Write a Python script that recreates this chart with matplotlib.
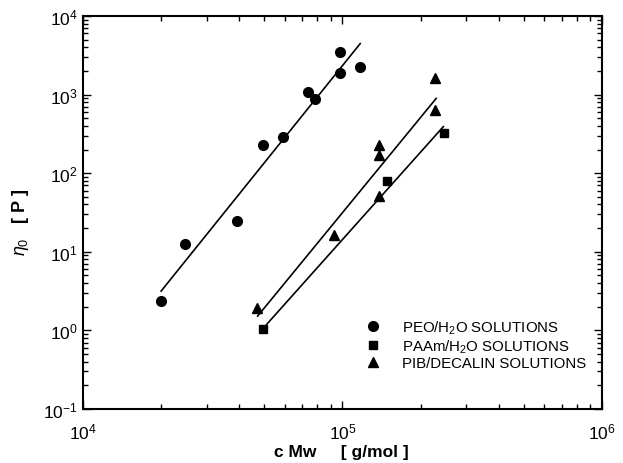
import matplotlib
matplotlib.use("Agg")
import matplotlib.pyplot as plt
import matplotlib.ticker as mticker
import numpy as np

plt.rcParams['font.family'] = ['Liberation Sans', 'DejaVu Sans']
plt.rcParams['mathtext.fontset'] = 'custom'
plt.rcParams['mathtext.rm'] = 'Liberation Sans'
plt.rcParams['mathtext.it'] = 'Liberation Sans:italic'
plt.rcParams['mathtext.bf'] = 'Liberation Sans:bold'

# PEO / H2O solutions
peo_x = [2.0e4, 2.47e4, 3.92e4, 4.94e4, 5.9e4, 7.36e4, 7.83e4, 9.75e4, 9.75e4, 1.166e5]
peo_y = [2.34, 12.4, 25, 226, 285, 1067, 869, 3475, 1877, 2237]
peo_fit_x = [2.0e4, 1.17e5]
peo_fit_y = [3.16, 4450]

# PAAm / H2O solutions
paam_x = [4.95e4, 1.48e5, 2.46e5]
paam_y = [1.05, 79, 324]
paam_fit_x = [5.1e4, 2.447e5]
paam_fit_y = [1.19, 391]

# PIB / decalin solutions
pib_x = [4.67e4, 9.29e4, 1.383e5, 1.383e5, 1.383e5, 2.28e5, 2.28e5]
pib_y = [1.94, 16.4, 228, 170, 52, 1622, 630]
pib_fit_x = [4.71e4, 2.297e5]
pib_fit_y = [1.52, 895]

fig = plt.figure(figsize=(6.23, 4.64), dpi=100)
ax = fig.add_axes([0.1332, 0.1164, 0.8331, 0.8470])

ax.plot(peo_fit_x, peo_fit_y, color='black', lw=1.2)
ax.plot(paam_fit_x, paam_fit_y, color='black', lw=1.2)
ax.plot(pib_fit_x, pib_fit_y, color='black', lw=1.2)

ax.plot(peo_x, peo_y, 'o', color='black', ms=7, label='PEO/H$_2$O SOLUTIONS')
ax.plot(paam_x, paam_y, 's', color='black', ms=6, label='PAAm/H$_2$O SOLUTIONS')
ax.plot(pib_x, pib_y, '^', color='black', ms=6.5, label='PIB/DECALIN SOLUTIONS')

ax.set_xscale('log')
ax.set_yscale('log')
ax.set_xlim(1e4, 1e6)
ax.set_ylim(1e-1, 1e4)
for axis in (ax.xaxis, ax.yaxis):
    axis.set_minor_locator(mticker.LogLocator(base=10, subs=np.arange(2, 10), numticks=100))
    axis.set_minor_formatter(mticker.NullFormatter())

for s in ax.spines.values():
    s.set_linewidth(1.5)
ax.tick_params(which='both', direction='in', top=True, right=True, width=1.0)
ax.tick_params(which='major', length=6, labelsize=12.5)
ax.tick_params(which='minor', length=3.5)
ax.tick_params(axis='x', which='major', pad=9)
ax.tick_params(axis='y', which='major', pad=4)

ax.set_xlabel('c Mw     [ g/mol ]', fontsize=12.5, fontweight='bold', va='center')
ax.xaxis.set_label_coords(0.497, -0.107)
ax.set_ylabel(r'$\mathit{\eta_0}$   [ P ]', fontsize=13, fontweight='bold', va='center')
ax.yaxis.set_label_coords(-0.121, 0.478)

leg = ax.legend(loc='upper left', bbox_to_anchor=(0.527, 0.249), frameon=False,
                fontsize=10.8, handlelength=1.2, handletextpad=1.3, labelspacing=0.1,
                borderpad=0, numpoints=1)

fig.savefig('out.png', dpi=100)
